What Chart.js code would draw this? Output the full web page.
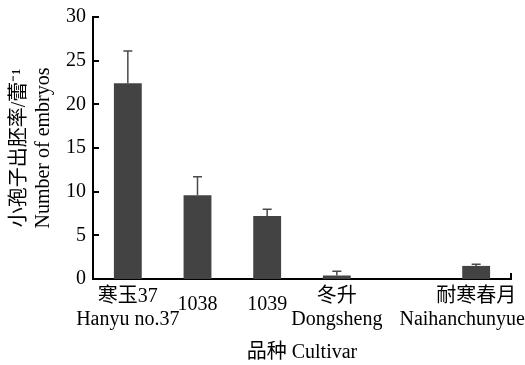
<!DOCTYPE html>
<html><head><meta charset="utf-8">
<script src="https://cdn.jsdelivr.net/npm/chart.js@4/dist/chart.umd.min.js"></script>
<style>html,body{margin:0;padding:0;background:#fff}#c{display:block}</style>
</head><body>
<canvas id="c" width="525" height="365"></canvas>
<script>
// ---- data ----
const categories = [['寒玉37', 'Hanyu no.37'], ['1038'], ['1039'], ['冬升', 'Dongsheng'], [''], ['耐寒春月', 'Naihanchunyue']];
const means  = [22.4, 9.6, 7.2, 0.4, null, 1.5];
const errors = [3.7, 2.1, 0.8, 0.5, null, 0.2];
const yTicks = [0, 5, 10, 15, 20, 25, 30];
const yTitle = ['小孢子出胚率/蕾⁻¹', 'Number of embryos'];
const xTitle = '品种 Cultivar';

const FAMILY = '"Liberation Serif", "Noto Sans CJK SC", serif';
const BAR = '#434343';

const errorBarPlugin = {
  id: 'errorBars',
  afterDatasetsDraw(chart) {
    const ctx = chart.ctx, ys = chart.scales.y, meta = chart.getDatasetMeta(0);
    ctx.save();
    ctx.strokeStyle = '#4a4a4a';
    ctx.lineWidth = 1.5;
    means.forEach((m, i) => {
      if (m == null || errors[i] == null) return;
      const el = meta.data[i];
      const x = el.x;
      const y0 = ys.getPixelForValue(m);
      const y1 = ys.getPixelForValue(m + errors[i]);
      ctx.beginPath();
      ctx.moveTo(x, y0); ctx.lineTo(x, y1);
      ctx.moveTo(x - 4.5, y1); ctx.lineTo(x + 4.5, y1);
      ctx.stroke();
    });
    ctx.restore();
  }
};

const innerTickPlugin = {
  id: 'innerTicks',
  afterDraw(chart) {
    const ctx = chart.ctx, ys = chart.scales.y, a = chart.chartArea;
    ctx.save();
    ctx.strokeStyle = '#000';
    ctx.lineWidth = 2;
    ys.ticks.forEach(t => {
      const y = Math.round(ys.getPixelForValue(t.value));
      ctx.beginPath(); ctx.moveTo(a.left, y); ctx.lineTo(a.left + 6, y); ctx.stroke();
    });
    ctx.beginPath(); ctx.moveTo(a.right, a.bottom); ctx.lineTo(a.right, a.bottom - 6); ctx.stroke();
    ctx.restore();
  }
};

const xLabelPlugin = {
  id: 'xLabels',
  afterDraw(chart) {
    const ctx = chart.ctx, xs = chart.scales.x, a = chart.chartArea;
    ctx.save();
    ctx.fillStyle = '#000';
    ctx.font = '20px ' + FAMILY;
    ctx.textBaseline = 'middle';
    ctx.textAlign = 'center';
    categories.forEach((lab, i) => {
      const lines = lab.filter(s => s);
      if (!lines.length) return;
      const cx = xs.getPixelForValue(i);
      const yy = lines.length === 1 ? [a.bottom + 26] : [a.bottom + 18, a.bottom + 41];
      lines.forEach((t, j) => {
        const w = ctx.measureText(t).width;
        const x = Math.min(cx, chart.width - w / 2);
        ctx.fillText(t, x, yy[j]);
      });
    });
    ctx.restore();
  }
};

new Chart(document.getElementById('c'), {
  type: 'bar',
  data: {
    labels: categories,
    datasets: [{
      data: means,
      backgroundColor: BAR,
      borderWidth: 0,
      barPercentage: 0.4,
      categoryPercentage: 1
    }]
  },
  options: {
    responsive: false,
    animation: false,
    devicePixelRatio: 1,
    layout: { padding: { top: 5, right: 14, left: 8, bottom: 0 } },
    plugins: { legend: { display: false }, tooltip: { enabled: false } },
    scales: {
      x: {
        type: 'category',
        offset: true,
        grid: { display: false, drawTicks: false },
        border: { display: true, color: '#000', width: 2 },
        ticks: { display: false },
        title: {
          display: true, text: xTitle, color: '#000',
          font: { family: FAMILY, size: 20 },
          padding: { top: 62, bottom: 0 }
        }
      },
      y: {
        min: 0, max: 30,
        afterBuildTicks: s => { s.ticks = yTicks.map(v => ({ value: v })); },
        grid: { display: false, drawTicks: false },
        border: { display: true, color: '#000', width: 2 },
        ticks: { color: '#000', font: { family: FAMILY, size: 20, lineHeight: 1 }, padding: 7 },
        title: {
          display: true, text: yTitle, color: '#000',
          font: { family: FAMILY, size: 20 },
          padding: { top: 0, bottom: 3 }
        }
      }
    }
  },
  plugins: [errorBarPlugin, innerTickPlugin, xLabelPlugin]
});
</script>
</body></html>
